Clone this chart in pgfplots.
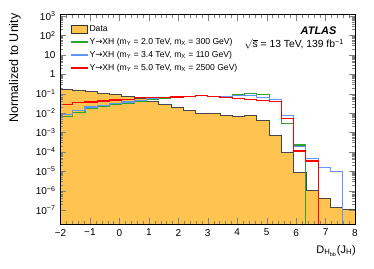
\documentclass[border=0pt]{standalone}
\usepackage{pgfplots}
\pgfplotsset{compat=1.18}
\usepackage{fontspec}
\setmainfont{Liberation Sans}
\newfontfamily\dejavu{DejaVu Sans}
\definecolor{datafill}{RGB}{255,196,80}
\definecolor{sgreen}{RGB}{50,160,50}
\definecolor{sblue}{RGB}{95,150,255}
\definecolor{sred}{RGB}{255,0,0}
\pgfplotsset{
  dataleg/.style={legend image code/.code={\draw[fill=datafill, draw=black!80, line width=0.6pt] (0pt,-4.1pt) rectangle (16.7pt,4.1pt);}}}
\begin{document}
\begin{tikzpicture}
\path[use as bounding box] (-60.5pt,-44pt) rectangle (313.5pt,224pt);
\begin{axis}[
  at={(0pt,0pt)}, anchor=south west,
  scale only axis, width=294.5pt, height=209.5pt,
  xmin=-2, xmax=8, ymode=log, ymin=1.9e-8, ymax=1.2e3,
  xtick={-2,-1,0,1,2,3,4,5,6,7,8},
  xticklabels={−2,−1,0,1,2,3,4,5,6,7,8},
  minor x tick num=4,
  ytickten={-7,-6,-5,-4,-3,-2,-1,0,1,2,3},
  yticklabels={10\textsuperscript{−7},10\textsuperscript{−6},10\textsuperscript{−5},10\textsuperscript{−4},10\textsuperscript{−3},10\textsuperscript{−2},10\textsuperscript{−1},1,10,10\textsuperscript{2},10\textsuperscript{3}},
  ticklabel style={font=\fontsize{10}{12}\selectfont},
  xticklabel style={yshift=-1.5pt},
  yticklabel style={xshift=-1.5pt},
  major tick length=6pt, minor tick length=3pt,
  tick align=inside,
  axis on top,
  axis line style={line width=0.6pt},
  legend style={at={(rel axis cs:0.032,0.958)}, anchor=north west, draw=none, fill=none,
    inner sep=0pt, row sep=2.2pt,
    font=\fontsize{8.6}{10}\selectfont,
    nodes={inner sep=1.3pt, text height=6.3pt, text depth=1.9pt}},
  legend cell align=left,
]
% Data (filled)
\addplot[fill=datafill, draw=none, const plot mark left, dataleg] coordinates {
(-2,1e-12) (-2,0.167) (-1.5833,0.141) (-1.1667,0.125) (-0.75,0.107) (-0.3333,0.0877)
(0.0833,0.0692) (0.5,0.0546) (0.9167,0.0401) (1.3333,0.0281) (1.75,0.0204)
(2.1667,0.0138) (2.5833,0.0098) (3.0,0.0091) (3.4167,0.0078) (3.8333,0.0070)
(4.25,0.0077) (4.6667,0.0041) (5.0833,7.3e-4) (5.5,9.4e-5) (5.9167,8.8e-6)
(6.3333,1.07e-6) (6.75,4.0e-7) (7.1667,1.38e-7) (7.5833,1.09e-7) (8,1.09e-7) (8,1e-12)
} -- cycle;
\addlegendentry{Data}
% Data outline
\addplot[forget plot, draw=black!72, line width=0.8pt, const plot mark left] coordinates {
(-2,0.167) (-1.5833,0.141) (-1.1667,0.125) (-0.75,0.107) (-0.3333,0.0877)
(0.0833,0.0692) (0.5,0.0546) (0.9167,0.0401) (1.3333,0.0281) (1.75,0.0204)
(2.1667,0.0138) (2.5833,0.0098) (3.0,0.0091) (3.4167,0.0078) (3.8333,0.0070)
(4.25,0.0077) (4.6667,0.0041) (5.0833,7.3e-4) (5.5,9.4e-5) (5.9167,8.8e-6)
(6.3333,1.07e-6) (6.75,4.0e-7) (7.1667,1.38e-7) (7.5833,1.09e-7) (8,1.09e-7)
};
% Green: mY=2.0 TeV, mX=300 GeV
\addplot[draw=sgreen, line width=1.1pt, const plot mark left, forget plot] coordinates {
(-2,0.00676) (-1.5833,0.0104) (-1.1667,0.0167) (-0.75,0.0221) (-0.3333,0.0268)
(0.0833,0.0327) (0.5,0.0416) (0.9167,0.0508) (1.3333,0.0593) (1.75,0.0615)
(2.1667,0.0727) (2.5833,0.078) (3.0,0.0735) (3.4167,0.0668) (3.8333,0.0887)
(4.25,0.0966) (4.6667,0.0857) (5.0833,0.0479) (5.5,0.00294) (5.9167,2.24e-4)
(6.3333,1e-12) (6.75,1e-12) (7.1667,1e-12) (7.5833,1e-12) (8,1e-12)
};
% Blue: mY=3.4 TeV, mX=110 GeV
\addplot[draw=sblue, line width=1.1pt, const plot mark left, forget plot] coordinates {
(-2,0.00857) (-1.5833,0.0138) (-1.1667,0.0204) (-0.75,0.0249) (-0.3333,0.0302)
(0.0833,0.0369) (0.5,0.0452) (0.9167,0.0546) (1.3333,0.0644) (1.75,0.0668)
(2.1667,0.0727) (2.5833,0.078) (3.0,0.0727) (3.4167,0.0684) (3.8333,0.0771)
(4.25,0.0789) (4.6667,0.0644) (5.0833,0.0485) (5.5,0.00727) (5.9167,1.83e-4)
(6.3333,4.62e-5) (6.75,1.51e-5) (7.1667,9.4e-6) (7.5833,1e-12) (8,1e-12)
};
% Red: mY=5.0 TeV, mX=2500 GeV
\addplot[draw=sred, line width=1.1pt, const plot mark left, forget plot] coordinates {
(-2,0.0268) (-1.5833,0.034) (-1.1667,0.0369) (-0.75,0.0416) (-0.3333,0.0468)
(0.0833,0.0508) (0.5,0.0615) (0.9167,0.0615) (1.3333,0.0652) (1.75,0.0668)
(2.1667,0.0727) (2.5833,0.0771) (3.0,0.0735) (3.4167,0.0608) (3.8333,0.0559)
(4.25,0.0508) (4.6667,0.0441) (5.0833,0.0382) (5.5,0.00533) (5.9167,1.10e-4)
(6.3333,3.36e-5) (6.75,1e-12) (7.1667,1e-12) (7.5833,1e-12) (8,1e-12)
};
\addlegendimage{sgreen, line width=1.4pt, legend image code/.code={\draw[sgreen, line width=1.4pt] (0pt,0pt) -- (16.7pt,0pt);}}
\addlegendentry{Y{\dejavu →}XH (m\textsubscript{Y} = 2.0 TeV, m\textsubscript{X} = 300 GeV)}
\addlegendimage{sblue, line width=1.4pt, legend image code/.code={\draw[sblue, line width=1.4pt] (0pt,0pt) -- (16.7pt,0pt);}}
\addlegendentry{Y{\dejavu →}XH (m\textsubscript{Y} = 3.4 TeV, m\textsubscript{X} = 110 GeV)}
\addlegendimage{sred, line width=1.4pt, legend image code/.code={\draw[sred, line width=1.4pt] (0pt,0pt) -- (16.7pt,0pt);}}
\addlegendentry{Y{\dejavu →}XH (m\textsubscript{Y} = 5.0 TeV, m\textsubscript{X} = 2500 GeV)}
\end{axis}
\node[rotate=90, anchor=east, inner sep=0pt, font=\fontsize{12.5}{14}\selectfont] at (-45.5pt,210.7pt) {Normalized to Unity};
\node[anchor=base east, inner sep=0pt, font=\fontsize{11}{13}\selectfont] at (295.5pt,-29.3pt) {D\textsubscript{H\textsubscript{bb}}(J\textsubscript{H})};
\node[anchor=base east, inner sep=0pt, font=\fontsize{11}{13}\selectfont\bfseries\itshape] at (276.2pt,189.7pt) {ATLAS};
\node[anchor=base east, inner sep=0pt, font=\fontsize{10.3}{12}\selectfont] at (283.5pt,176.3pt) {$\sqrt{\mbox{s}}$ = 13 TeV, 139 fb\textsuperscript{−1}};
\end{tikzpicture}
\end{document}
